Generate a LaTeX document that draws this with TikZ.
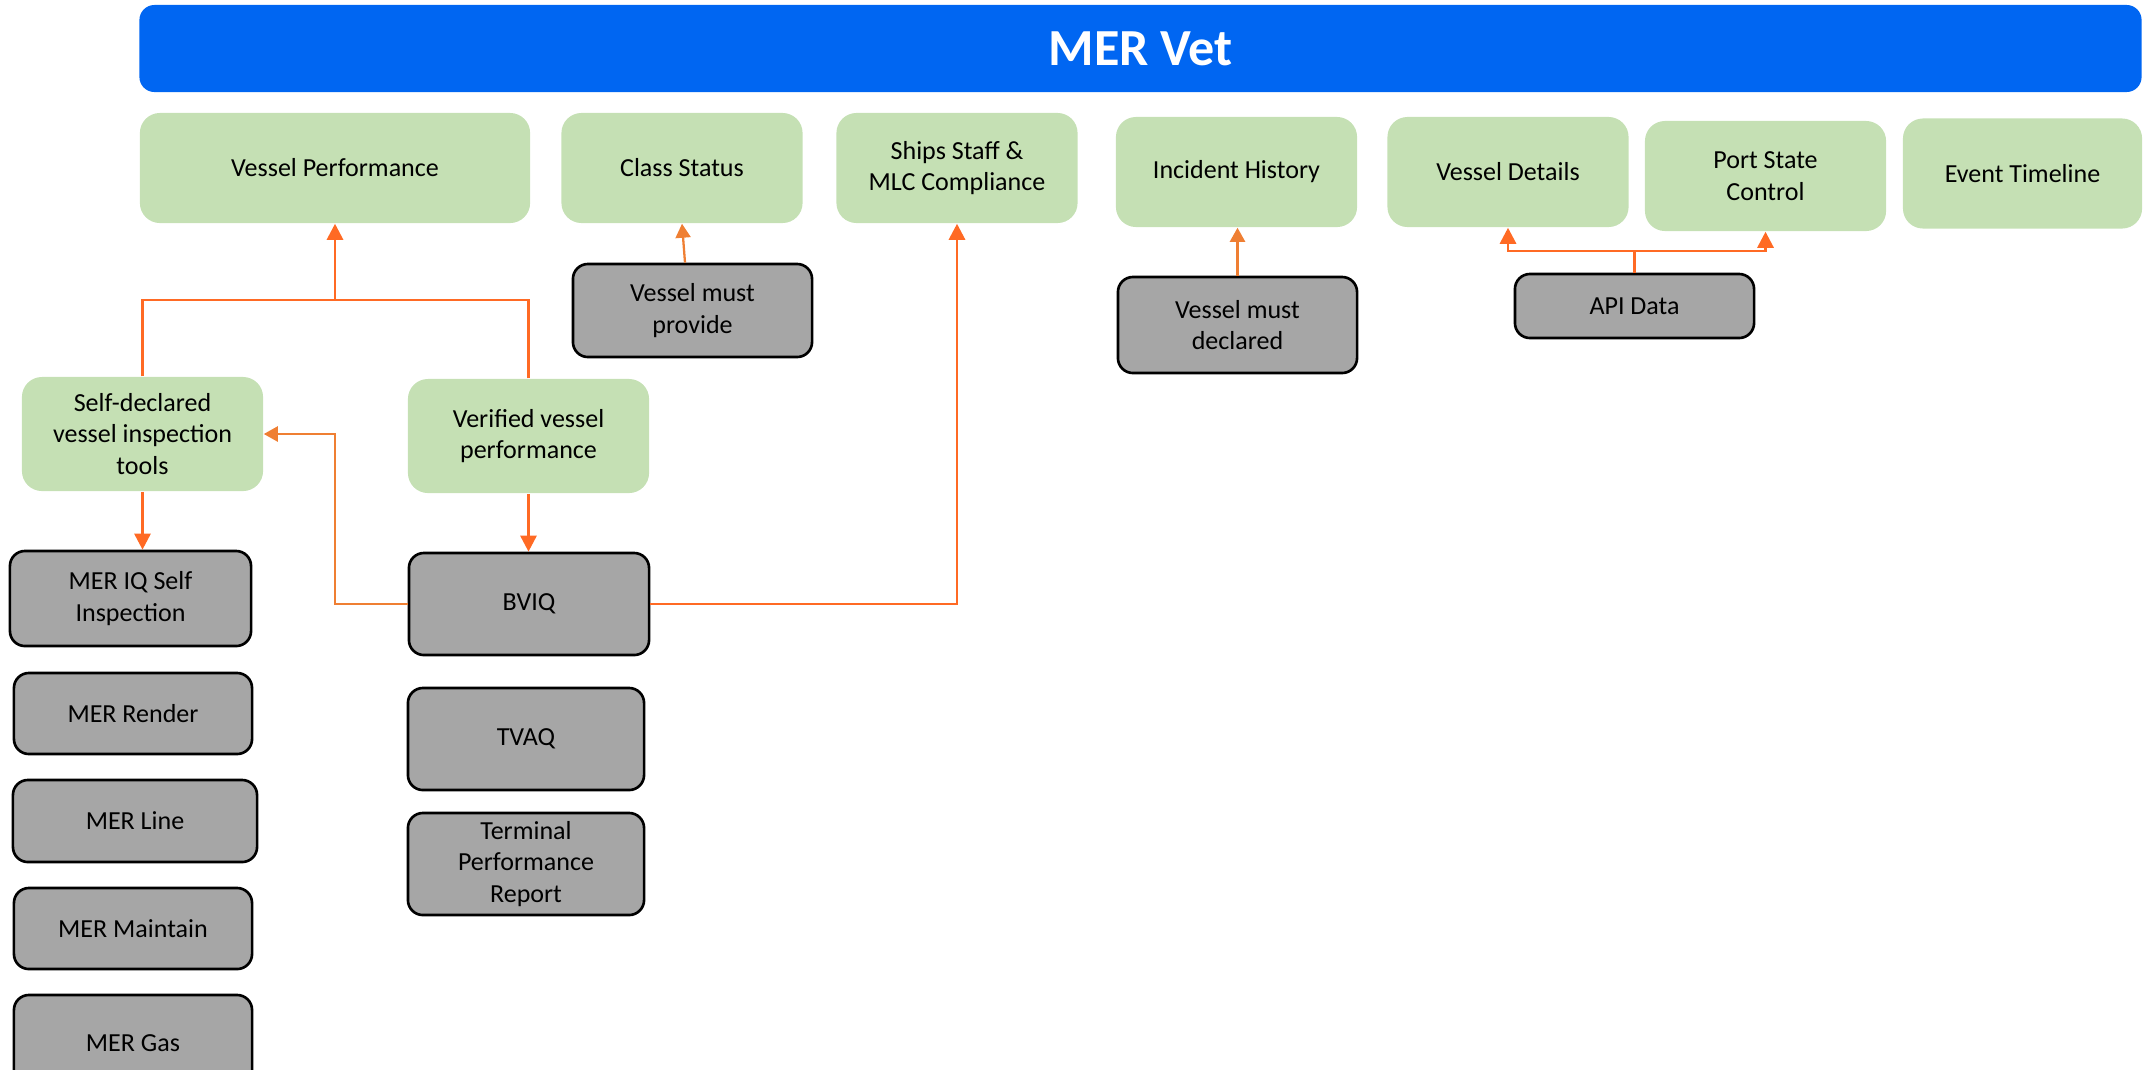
\documentclass[tikz,border=0pt]{standalone}
\usepackage{fontspec}
\setmainfont{Carlito}
\usepackage{xcolor}
\usetikzlibrary{arrows.meta,positioning,calc}
\definecolor{VetBlue}{HTML}{0066F2}
\definecolor{TopicGreen}{HTML}{C5E0B4}
\definecolor{SourceGray}{HTML}{A6A6A6}
\definecolor{LinkOrange}{HTML}{FF6A24}
\definecolor{SoftOrange}{HTML}{EF7F33}

\begin{document}
\begin{tikzpicture}[x=0.01cm, y=-0.01cm,
    topic/.style={fill=TopicGreen, rounded corners=2mm, minimum width=2.41cm,
      minimum height=1.1cm, inner sep=0pt, align=center, font=\fontsize{7.4}{9}\selectfont},
    source/.style={draw=black, line width=0.75pt, fill=SourceGray, rounded corners=1.5mm,
      minimum width=2.39cm, minimum height=1.02cm, inner sep=0pt, align=center,
      font=\fontsize{7.4}{9}\selectfont},
    banner/.style={fill=VetBlue, rounded corners=1.5mm, text=white, inner sep=0pt,
      minimum width=20.01cm, minimum height=0.87cm, font=\fontsize{14.8}{18}\selectfont\bfseries},
    arrow/.style={-{Triangle[length=1.6mm,width=1.6mm]}, line width=0.8pt, color=LinkOrange},
    softarrow/.style={-{Triangle[length=1.4mm,width=1.5mm]}, line width=0.65pt, color=SoftOrange},
    link/.style={line width=0.8pt, color=LinkOrange}
  ]
    \useasboundingbox (0,0) rectangle (2143,1069);
    \clip (0,0) rectangle (2143,1069);
    % header
    \node[banner] (vet) at (1140.5,48.5) {MER Vet};
    % top row
    \node[topic, minimum width=3.9cm] (performance) at (335,168) {Vessel Performance};
    \node[topic] (class) at (682,168) {Class Status};
    \node[topic] (staff) at (957,168) {Ships Staff \&\\MLC Compliance};
    \node[topic] (incident) at (1236.5,172) {Incident History};
    \node[topic] (details) at (1508,172) {Vessel Details};
    \node[topic] (psc) at (1765.5,176) {Port State\\Control};
    \node[topic, minimum width=2.39cm] (timeline) at (2022.5,173.5) {Event Timeline};
    % sources under the top row
    \node[source, minimum height=0.93cm] (provide) at (692.5,310.5) {Vessel must\\provide};
    \node[source, minimum height=0.96cm] (declared) at (1237.5,325) {Vessel must\\declared};
    \node[source, minimum height=0.64cm] (api) at (1634.5,306) {API Data};
    % performance branches
    \node[topic, minimum height=1.14cm] (selfdecl) at (142.5,434) {Self-declared\\vessel inspection\\tools};
    \node[topic, minimum height=1.14cm] (verified) at (528.5,436) {Verified vessel\\performance};
    % left column
    \node[source, minimum width=2.41cm, minimum height=0.95cm] (meriq) at (130.5,598.5) {MER IQ Self\\Inspection};
    \node[source, minimum width=2.38cm, minimum height=0.81cm] (render) at (133,713.5) {MER Render};
    \node[source, minimum width=2.44cm, minimum height=0.82cm] (merline) at (135,821) {MER Line};
    \node[source, minimum width=2.38cm, minimum height=0.81cm] (maintain) at (133,928.5) {MER Maintain};
    \node[source, minimum width=2.38cm, minimum height=0.96cm] (gas) at (133,1043) {MER Gas};
    % middle column
    \node[source, minimum width=2.40cm] (bviq) at (529,604) {BVIQ};
    \node[source, minimum width=2.36cm] (tvaq) at (526,739) {TVAQ};
    \node[source, minimum width=2.36cm] (terminal) at (526,864) {Terminal\\Performance\\Report};
    % connectors
    \coordinate (perfjoin) at (performance.south |- 0,300);
    \coordinate (apijoin) at (api.north |- 0,251);
    \draw[arrow] (selfdecl.north) |- (perfjoin) -- (performance.south);
    \draw[link] (verified.north) |- (perfjoin);
    \draw[arrow] (verified.south) -- (verified.south |- bviq.north);
    \draw[arrow] (selfdecl.south) -- (selfdecl.south |- meriq.north);
    \draw[softarrow] (bviq.west) -- (bviq.west -| perfjoin) |- (selfdecl.east);
    \draw[arrow] (bviq.east) -| (staff.south);
    \draw[softarrow] ([xshift=0.03cm]class.south |- provide.north) -- (class.south);
    \draw[softarrow] (declared.north) -- (declared.north |- incident.south);
    \draw[link] (api.north) -- (apijoin);
    \draw[arrow] (apijoin) -| (details.south);
    \draw[arrow] (apijoin) -| (psc.south);
  \end{tikzpicture}
\end{document}
